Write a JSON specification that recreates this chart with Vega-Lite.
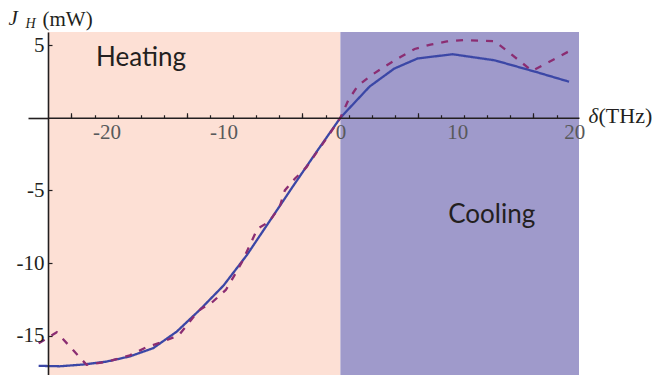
{
  "$schema": "https://vega.github.io/schema/vega-lite/v6.json",
  "width": 531,
  "height": 343,
  "autosize": {"type": "none"},
  "padding": {"left": 48, "top": 32, "right": 77, "bottom": 0},
  "background": "white",
  "config": {
    "view": {"stroke": null},
    "axis": {"grid": false, "zindex": 2, "titleFontWeight": "normal", "titleColor": "#231f20", "labelOverlap": false, "labelFlush": false}
  },
  "datasets": {
    "regions": [
      {"x0": -25, "x1": 0, "top": 5.9, "bottom": -17.7, "region": "Heating"},
      {"x0": 0, "x1": 20.4, "top": 5.9, "bottom": -17.7, "region": "Cooling"}
    ],
    "curves": [
      {"x": -25.8, "y": -17.07, "s": "exact"},
      {"x": -24, "y": -17.1, "s": "exact"},
      {"x": -22, "y": -16.98, "s": "exact"},
      {"x": -20, "y": -16.78, "s": "exact"},
      {"x": -18, "y": -16.42, "s": "exact"},
      {"x": -16, "y": -15.85, "s": "exact"},
      {"x": -14, "y": -14.72, "s": "exact"},
      {"x": -12, "y": -13.2, "s": "exact"},
      {"x": -10, "y": -11.55, "s": "exact"},
      {"x": -8, "y": -9.45, "s": "exact"},
      {"x": -6, "y": -7.05, "s": "exact"},
      {"x": -4, "y": -4.65, "s": "exact"},
      {"x": -2, "y": -2.3, "s": "exact"},
      {"x": 0, "y": 0, "s": "exact"},
      {"x": 2.5, "y": 2.15, "s": "exact"},
      {"x": 4.6, "y": 3.38, "s": "exact"},
      {"x": 6.6, "y": 4.08, "s": "exact"},
      {"x": 9.6, "y": 4.37, "s": "exact"},
      {"x": 13.2, "y": 3.95, "s": "exact"},
      {"x": 16.6, "y": 3.18, "s": "exact"},
      {"x": 19.55, "y": 2.48, "s": "exact"},
      {"x": -25.8, "y": -15.52, "s": "approx"},
      {"x": -24.25, "y": -14.76, "s": "approx"},
      {"x": -21.7, "y": -17.0, "s": "approx"},
      {"x": -20, "y": -16.8, "s": "approx"},
      {"x": -18, "y": -16.35, "s": "approx"},
      {"x": -16.6, "y": -15.8, "s": "approx"},
      {"x": -15.3, "y": -15.45, "s": "approx"},
      {"x": -13.8, "y": -14.95, "s": "approx"},
      {"x": -12.1, "y": -13.25, "s": "approx"},
      {"x": -10.9, "y": -12.65, "s": "approx"},
      {"x": -9.8, "y": -11.85, "s": "approx"},
      {"x": -9.1, "y": -10.9, "s": "approx"},
      {"x": -8.4, "y": -9.9, "s": "approx"},
      {"x": -7.1, "y": -7.65, "s": "approx"},
      {"x": -6.1, "y": -7.15, "s": "approx"},
      {"x": -5.2, "y": -6.15, "s": "approx"},
      {"x": -4.75, "y": -5.0, "s": "approx"},
      {"x": -3.9, "y": -4.2, "s": "approx"},
      {"x": -2.9, "y": -3.4, "s": "approx"},
      {"x": -2, "y": -2.35, "s": "approx"},
      {"x": -1, "y": -1.2, "s": "approx"},
      {"x": 0, "y": 0, "s": "approx"},
      {"x": 0.7, "y": 1.25, "s": "approx"},
      {"x": 1.5, "y": 2.2, "s": "approx"},
      {"x": 2.6, "y": 2.9, "s": "approx"},
      {"x": 3.9, "y": 3.58, "s": "approx"},
      {"x": 5.1, "y": 4.16, "s": "approx"},
      {"x": 6.35, "y": 4.73, "s": "approx"},
      {"x": 7.7, "y": 5.03, "s": "approx"},
      {"x": 9.1, "y": 5.25, "s": "approx"},
      {"x": 10.5, "y": 5.34, "s": "approx"},
      {"x": 12, "y": 5.3, "s": "approx"},
      {"x": 13.2, "y": 5.27, "s": "approx"},
      {"x": 16.4, "y": 3.22, "s": "approx"},
      {"x": 19.6, "y": 4.6, "s": "approx"}
    ],
    "labels": [
      {"x": -17.05, "y": 3.56, "label": "Heating"},
      {"x": 12.94, "y": -7.22, "label": "Cooling"}
    ]
  },
  "layer": [
    {
      "data": {"name": "regions"},
      "mark": {"type": "rect"},
      "encoding": {
        "x": {
          "field": "x0", "type": "quantitative",
          "scale": {"domain": [-25, 20.4], "nice": false, "zero": false},
          "axis": {
            "orient": "bottom", "zindex": 2,
            "values": [-20, -10, 0, 10, 20], "ticks": false, "domain": false,
            "labelExpr": "toString(datum.value)",
            "labelFont": "Liberation Serif", "labelFontSize": 21, "labelColor": "#58595b", "labelPadding": 4,
            "offset": -257.25,
            "title": "δ", "titleFont": "Liberation Serif", "titleFontStyle": "italic", "titleFontSize": 21,
            "titleX": 540, "titleY": 5, "titleAlign": "left", "titleBaseline": "alphabetic"
          }
        },
        "x2": {"field": "x1"},
        "y": {
          "field": "top", "type": "quantitative",
          "scale": {"domain": [-17.7, 5.9], "nice": false, "zero": false},
          "axis": {
            "orient": "left", "zindex": 2,
            "ticks": false, "labels": false, "domain": false,
            "title": "(mW)", "titleFont": "Liberation Serif", "titleFontSize": 21, "titleAngle": 0,
            "titleX": -6, "titleY": -7, "titleAlign": "left", "titleBaseline": "alphabetic"
          }
        },
        "y2": {"field": "bottom"},
        "color": {
          "field": "region", "type": "nominal",
          "scale": {"domain": ["Heating", "Cooling", "exact", "approx"], "range": ["#fde0d5", "#9f9acb", "#3b47a6", "#8b2d72"]},
          "legend": null
        }
      }
    },
    {
      "data": {"name": "curves"},
      "mark": {"type": "line", "strokeWidth": 2.3},
      "encoding": {
        "x": {
          "field": "x", "type": "quantitative",
          "scale": {"domain": [-25, 20.4], "nice": false, "zero": false},
          "axis": {
            "orient": "bottom", "zindex": 2,
            "values": [-23.0, -21.02, -19.05, -17.07, -15.1, -13.12, -11.15, -9.17, -7.2, -5.22, -3.25, -1.27, 0.7, 2.68, 4.65, 6.63, 8.6, 10.58, 12.55, 14.53, 16.5, 18.48],
            "labels": false, "ticks": true, "tickSize": -3, "tickColor": "#231f20", "tickWidth": 1.2,
            "domain": true, "domainColor": "#231f20", "domainWidth": 1.6,
            "offset": -257.25, "title": null
          }
        },
        "y": {
          "field": "y", "type": "quantitative",
          "scale": {"domain": [-17.7, 5.9], "nice": false, "zero": false},
          "axis": {
            "orient": "left", "zindex": 2,
            "values": [-15, -10, -5, 5], "tickSize": -4, "tickColor": "#231f20", "tickWidth": 1.2,
            "labelExpr": "toString(datum.value)",
            "labelPadding": 8, "labelFont": "Liberation Serif", "labelFontSize": 21, "labelColor": "#231f20",
            "domain": true, "domainColor": "#231f20", "domainWidth": 1.6,
            "title": "J", "titleFont": "Liberation Serif", "titleFontStyle": "italic", "titleFontSize": 21, "titleAngle": 0,
            "titleX": -40, "titleY": -8, "titleAlign": "left", "titleBaseline": "alphabetic"
          }
        },
        "color": {
          "field": "s", "type": "nominal",
          "scale": {"domain": ["Heating", "Cooling", "exact", "approx"], "range": ["#fde0d5", "#9f9acb", "#3b47a6", "#8b2d72"]},
          "legend": null
        },
        "strokeDash": {
          "field": "s", "type": "nominal",
          "scale": {"domain": ["exact", "approx"], "range": [[1, 0], [7, 8]]},
          "legend": null
        }
      }
    },
    {
      "data": {"name": "labels"},
      "mark": {"type": "text", "font": "Lato", "fontSize": 26, "color": "#231f20", "align": "center", "baseline": "alphabetic"},
      "encoding": {
        "x": {
          "field": "x", "type": "quantitative",
          "scale": {"domain": [-25, 20.4], "nice": false, "zero": false},
          "axis": {
            "orient": "bottom", "zindex": 2,
            "values": [-23.0, -13.12, -3.25, 6.63, 16.5],
            "labels": false, "ticks": true, "tickSize": -5, "tickColor": "#231f20", "tickWidth": 1.2,
            "domain": false, "offset": -257.25,
            "title": "(THz)", "titleFont": "Liberation Serif", "titleFontSize": 22,
            "titleX": 550, "titleY": 5, "titleAlign": "left", "titleBaseline": "alphabetic"
          }
        },
        "y": {
          "field": "y", "type": "quantitative",
          "scale": {"domain": [-17.7, 5.9], "nice": false, "zero": false},
          "axis": {
            "orient": "left", "zindex": 2,
            "values": [0], "labels": false, "ticks": true, "tickSize": 20, "tickColor": "#231f20", "tickWidth": 1.6,
            "domain": false,
            "title": "H", "titleFont": "Liberation Serif", "titleFontStyle": "italic", "titleFontSize": 14, "titleAngle": 0,
            "titleX": -23, "titleY": -5, "titleAlign": "left", "titleBaseline": "alphabetic"
          }
        },
        "text": {"field": "label", "type": "nominal"}
      }
    }
  ],
  "resolve": {"axis": {"x": "independent", "y": "independent"}}
}
